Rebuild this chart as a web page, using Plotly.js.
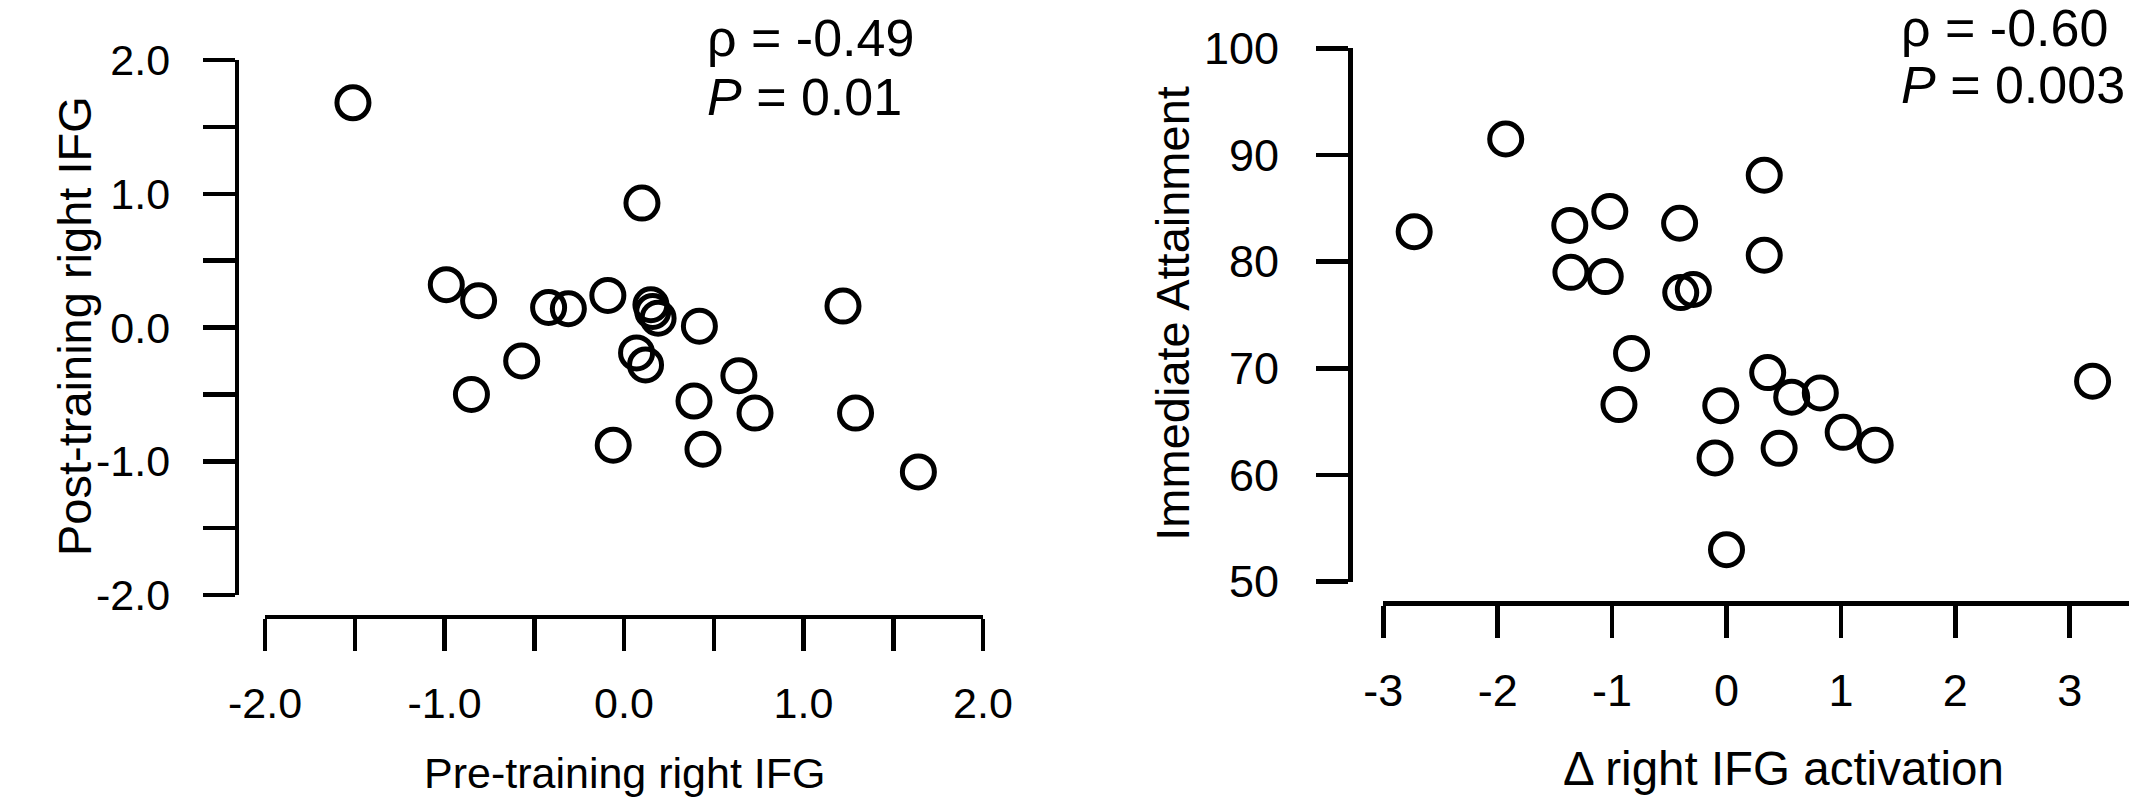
<!DOCTYPE html>
<html>
<head>
<meta charset="utf-8">
<script src="https://cdn.plot.ly/plotly-3.0.1.min.js"></script>
<style>
html,body{margin:0;padding:0;background:#fff;overflow:hidden;}
#chart{width:2129px;height:802px;}
</style>
</head>
<body>
<div id="chart"></div>
<script>
// ---- data ----
const preIFG  = [-1.51, 0.10, -0.99, -0.81, -0.42, -0.31, -0.09, 0.15, 0.16, 0.19, 0.42, 1.22, -0.57, 0.07, 0.12, 0.64, -0.85, 0.39, 0.73, 1.29, -0.06, 0.44, 1.64];
const postIFG = [1.68, 0.93, 0.32, 0.20, 0.15, 0.14, 0.24, 0.17, 0.12, 0.07, 0.01, 0.16, -0.25, -0.19, -0.28, -0.36, -0.50, -0.55, -0.64, -0.64, -0.88, -0.91, -1.08];

const deltaIFG   = [-2.73, -1.93, -1.37, -1.02, -0.41, 0.33, -1.36, -1.06, 0.33, -0.40, -0.29, -0.83, -0.94, 0.36, 0.57, 0.82, -0.05, -0.10, 0.46, 1.02, 1.30, 0.00, 3.20];
const attainment = [82.8, 91.5, 83.4, 84.7, 83.6, 88.1, 79.0, 78.6, 80.6, 77.1, 77.4, 71.4, 66.6, 69.6, 67.3, 67.7, 66.5, 61.6, 62.5, 64.0, 62.8, 53.0, 68.8];

const leftTickVals = [-2, -1, 0, 1, 2];
const leftTickText = ['-2.0', '-1.0', '0.0', '1.0', '2.0'];
const leftMinorVals = [-1.5, -0.5, 0.5, 1.5];
const rightXTickVals = [-3, -2, -1, 0, 1, 2, 3];
const rightXTickText = ['-3', '-2', '-1', '0', '1', '2', '3'];
const rightYTickVals = [50, 60, 70, 80, 90, 100];
const rightYTickText = ['50', '60', '70', '80', '90', '100'];

const leftXTitle = 'Pre-training right IFG';
const leftYTitle = 'Post-training right IFG';
const rightXTitle = '\u0394 right IFG activation';
const rightYTitle = 'Immediate Attainment';
const leftStats = ['\u03C1 = -0.49', '<i>P</i> = 0.01'];
const rightStats = ['\u03C1 = -0.60', '<i>P</i> = 0.003'];

// ---- layout geometry (pixels of the 2129x802 picture) ----
const W = 2129, H = 802;
const fx = X => X / W;
const fy = Y => 1 - Y / H;
const FONT = 'Liberation Sans, Arial, Helvetica, sans-serif';
const LW = 4.5;

function axis(extra) {
  return Object.assign({
    showline: true, linecolor: '#000', linewidth: LW,
    ticks: 'outside', ticklen: 32, tickwidth: LW, tickcolor: '#000',
    showgrid: false, zeroline: false, tickmode: 'array',
    anchor: 'free', fixedrange: true
  }, extra);
}
const minor = vals => ({tickmode: 'array', tickvals: vals, ticks: 'outside',
                        ticklen: 32, tickwidth: LW, tickcolor: '#000', showgrid: false});

const marker = {symbol: 'circle-open', size: 32, color: '#000', line: {width: 5, color: '#000'}};

const traces = [
  {x: preIFG, y: postIFG, type: 'scatter', mode: 'markers', marker: marker,
   xaxis: 'x', yaxis: 'y', cliponaxis: false, hoverinfo: 'skip'},
  {x: deltaIFG, y: attainment, type: 'scatter', mode: 'markers', marker: marker,
   xaxis: 'x2', yaxis: 'y2', cliponaxis: false, hoverinfo: 'skip'}
];

const rightXEnd = -3 + (W - 1383.3) / 114.4;

const layout = {
  width: W, height: H,
  margin: {l: 0, r: 0, t: 0, b: 0},
  paper_bgcolor: '#fff', plot_bgcolor: 'rgba(0,0,0,0)',
  showlegend: false,
  font: {family: FONT, color: '#000', size: 43},
  xaxis: axis({domain: [fx(265), fx(983)], range: [-2, 2], position: fy(616.7),
               tickvals: leftTickVals, ticktext: leftTickText, minor: minor(leftMinorVals),
               tickfont: {family: FONT, size: 43, color: '#000'}, ticklabelstandoff: 15}),
  yaxis: axis({domain: [fy(595), fy(60)], range: [-2, 2], position: fx(236.7),
               tickvals: leftTickVals, ticktext: leftTickText, minor: minor(leftMinorVals),
               tickfont: {family: FONT, size: 43, color: '#000'}, ticklabelstandoff: 24}),
  xaxis2: axis({domain: [fx(1383.3), 1], range: [-3, rightXEnd], position: fy(603.3),
                tickvals: rightXTickVals, ticktext: rightXTickText,
                tickfont: {family: FONT, size: 45, color: '#000'}, ticklabelstandoff: 14}),
  yaxis2: axis({domain: [fy(581.7), fy(48.3)], range: [50, 100], position: fx(1350),
                tickvals: rightYTickVals, ticktext: rightYTickText,
                tickfont: {family: FONT, size: 45, color: '#000'}, ticklabelstandoff: 28}),
  annotations: [
    {text: leftXTitle, x: fx(624), y: fy(773), font: {size: 43}},
    {text: leftYTitle, x: fx(74.5), y: fy(326.5), textangle: -90, font: {size: 47}},
    {text: rightXTitle, x: fx(1783.5), y: fy(768.5), font: {size: 47.5}},
    {text: rightYTitle, x: fx(1172.2), y: fy(313.5), textangle: -90, font: {size: 47}},
    {text: leftStats[0], x: fx(705), y: fy(38), xanchor: 'left', font: {size: 52}},
    {text: leftStats[1], x: fx(705), y: fy(97), xanchor: 'left', font: {size: 52}},
    {text: rightStats[0], x: fx(1899), y: fy(28), xanchor: 'left', font: {size: 52}},
    {text: rightStats[1], x: fx(1899), y: fy(85), xanchor: 'left', font: {size: 52}}
  ].map(a => Object.assign({xref: 'paper', yref: 'paper', showarrow: false,
                            xanchor: 'center', yanchor: 'middle'}, a))
};

Plotly.newPlot('chart', traces, layout, {displayModeBar: false, staticPlot: true});
</script>
</body>
</html>
